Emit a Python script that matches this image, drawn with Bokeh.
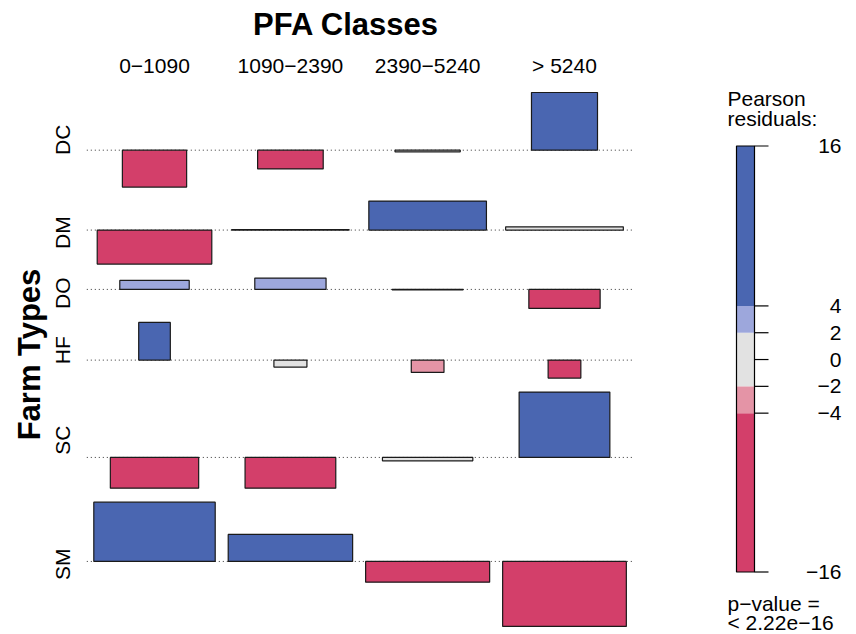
import numpy as np
from bokeh.plotting import figure
from bokeh.models import Range1d, ColumnDataSource
from bokeh.core.properties import value
from bokeh.embed import file_html
from bokeh.resources import INLINE

# ---- data -------------------------------------------------------------
farm_types = ["DC", "DM", "DO", "HF", "SC", "SM"]
pfa_classes = ["0\u22121090", "1090\u22122390", "2390\u22125240", "> 5240"]

# Pearson residuals per farm type, one value per PFA class
res_dc = [-9.0, -4.56, -0.4, 14.07]
res_dm = [-8.3, 0.1, 7.07, 0.8]
res_do = [2.2, 2.76, -0.1, -4.63]
res_hf = [9.2, -1.7, -3.0, -4.39]
res_sc = [-7.49, -7.49, -0.83, 15.93]
res_sm = [14.46, 6.59, -5.05, -15.85]

# expected frequencies under independence (bar width ~ sqrt(expected))
exp_dc = [41.3, 43.0, 42.6, 43.6]
exp_dm = [131.3, 138.3, 138.3, 138.5]
exp_do = [48.2, 50.8, 50.4, 50.8]
exp_hf = [10.0, 10.9, 10.7, 10.7]
exp_sc = [78.0, 82.3, 81.7, 82.3]
exp_sm = [147.4, 154.8, 153.8, 153.0]

shade_breaks = [-4, -2, 2, 4]
p_value_label = "< 2.22e\u221216"

# ---- styling / layout constants ----------------------------------------
W, H = 856, 634
FONT = value("Liberation Sans")
FS = value("21px")
FS_BIG = value("31px")
COL_RED = "#D33F6A"
COL_PINK = "#E494A6"
COL_GREY = "#E2E2E2"
COL_LBLUE = "#9DA7DC"
COL_BLUE = "#4A66B1"

X0 = 93.3          # left edge of first column (px)
COL_GAP = 13.0     # gap between columns (px)
W_SCALE = 10.0     # px per sqrt(expected count)
Y0 = 92.0          # top of first row (px from top)
ROW_GAP = 14.0     # gap between rows (px)
K = 4.1            # px per residual unit

residuals = np.array([res_dc, res_dm, res_do, res_hf, res_sc, res_sm])
expected = np.array([exp_dc, exp_dm, exp_do, exp_hf, exp_sc, exp_sm])
widths = W_SCALE * np.sqrt(expected)


def fy(ypx):
    """screen px (from top) -> data y"""
    return H - ypx


def shade(r):
    if r > shade_breaks[3]:
        return COL_BLUE
    if r > shade_breaks[2]:
        return COL_LBLUE
    if r >= shade_breaks[1]:
        return COL_GREY
    if r >= shade_breaks[0]:
        return COL_PINK
    return COL_RED


# column centres from the widest bar of each column
col_w = widths.max(axis=0)
col_left = []
x = X0
for w in col_w:
    col_left.append(x)
    x += w + COL_GAP
col_center = [l + w / 2 for l, w in zip(col_left, col_w)]
plot_left = X0 - 7
plot_right = col_left[-1] + col_w[-1] + 6

# row baselines from the largest positive / negative residual of each row
baselines, row_center = [], []
y = Y0
for row in residuals:
    pos = max(0.0, row.max()) * K
    neg = max(0.0, -row.min()) * K
    baselines.append(y + pos)
    row_center.append(y + (pos + neg) / 2)
    y += pos + neg + ROW_GAP

p = figure(width=W, height=H, x_range=Range1d(0, W), y_range=Range1d(0, H),
           toolbar_location=None, output_backend="svg", min_border=0,
           x_axis_type=None, y_axis_type=None)
p.outline_line_color = None
p.grid.visible = False
p.background_fill_color = "white"

# dotted baselines
p.segment(x0=[plot_left] * len(baselines), x1=[plot_right] * len(baselines),
          y0=[fy(b) for b in baselines], y1=[fy(b) for b in baselines],
          line_color="#333333", line_width=1, line_dash="1 3")

# association bars
lefts, rights, tops, bottoms, fills = [], [], [], [], []
for i in range(len(farm_types)):
    for j in range(len(pfa_classes)):
        r = residuals[i, j]
        w = widths[i, j]
        lefts.append(col_center[j] - w / 2)
        rights.append(col_center[j] + w / 2)
        b = baselines[i]
        tops.append(fy(b - max(r, 0) * K))
        bottoms.append(fy(b - min(r, 0) * K))
        fills.append(shade(r))
src = ColumnDataSource(dict(left=lefts, right=rights, top=tops, bottom=bottoms, fill=fills))
p.quad(left="left", right="right", top="top", bottom="bottom", source=src,
       fill_color="fill", line_color="#1a1a1a", line_width=1.2)

# titles and labels
p.text(x=[(X0 + plot_right - 6) / 2 - 14], y=[fy(24)], text=["PFA Classes"],
       text_font=FONT, text_font_size=FS_BIG, text_font_style="bold",
       text_align="center", text_baseline="middle", text_color="black")
p.text(x=col_center, y=[fy(65)] * len(col_center), text=pfa_classes,
       text_font=FONT, text_font_size=FS,
       text_align="center", text_baseline="middle", text_color="black")
p.text(x=[29], y=[fy(354)], text=["Farm Types"], angle=np.pi / 2,
       text_font=FONT, text_font_size=FS_BIG, text_font_style="bold",
       text_align="center", text_baseline="middle", text_color="black")
p.text(x=[62] * len(farm_types), y=[fy(c) for c in row_center], text=farm_types,
       angle=np.pi / 2, text_font=FONT, text_font_size=FS,
       text_align="center", text_baseline="middle", text_color="black")

# ---- legend ------------------------------------------------------------
rmax, rmin = residuals.max(), residuals.min()
LEG_TOP, LEG_BOT = 145.5, 571.5
LEG_L, LEG_R = 736, 754


def ly(r):
    return LEG_TOP + (rmax - r) / (rmax - rmin) * (LEG_BOT - LEG_TOP)


edges = [rmin] + shade_breaks + [rmax]
band_cols = [COL_RED, COL_PINK, COL_GREY, COL_LBLUE, COL_BLUE]
p.quad(left=[LEG_L] * 5, right=[LEG_R] * 5,
       bottom=[fy(ly(e)) for e in edges[:-1]], top=[fy(ly(e)) for e in edges[1:]],
       fill_color=band_cols, line_color=None)
p.quad(left=[LEG_L], right=[LEG_R], bottom=[fy(LEG_BOT)], top=[fy(LEG_TOP)],
       fill_color=None, line_color="black", line_width=1.2)

tick_vals = [rmax, 4, 2, 0, -2, -4, rmin]
tick_txt = [str(int(round(v))).replace("-", "\u2212") for v in tick_vals]
p.segment(x0=[LEG_R] * len(tick_vals), x1=[LEG_R + 14] * len(tick_vals),
          y0=[fy(ly(v)) for v in tick_vals], y1=[fy(ly(v)) for v in tick_vals],
          line_color="black", line_width=1.2)
p.text(x=[841] * len(tick_vals), y=[fy(ly(v)) for v in tick_vals], text=tick_txt,
       text_font=FONT, text_font_size=FS,
       text_align="right", text_baseline="middle", text_color="black")

p.text(x=[727, 727], y=[fy(98), fy(118)], text=["Pearson", "residuals:"],
       text_font=FONT, text_font_size=FS,
       text_align="left", text_baseline="middle", text_color="black")
p.text(x=[727, 727], y=[fy(603), fy(622)], text=["p\u2212value =", p_value_label],
       text_font=FONT, text_font_size=FS,
       text_align="left", text_baseline="middle", text_color="black")

open("out.html", "w").write(file_html(p, INLINE))
